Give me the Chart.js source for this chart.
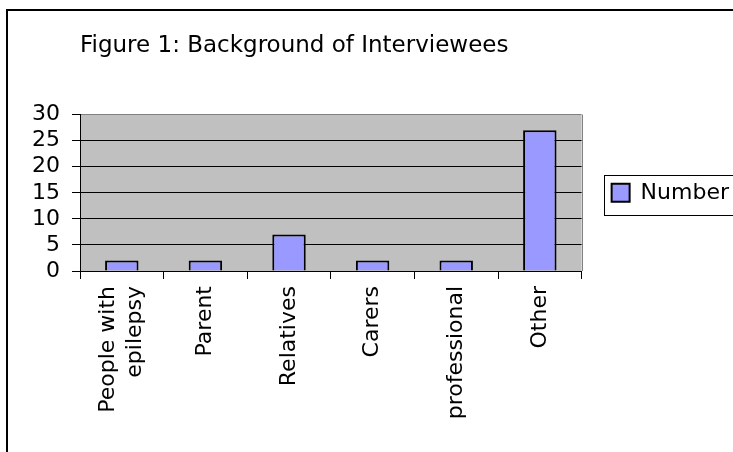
<!DOCTYPE html>
<html lang="en">
<head>
<meta charset="UTF-8" />
<title>Figure 1: Background of Interviewees</title>
<script src="https://cdn.jsdelivr.net/npm/chart.js"></script>
<style>
  body { margin: 0; background: #fff; }
  #wrap { position: relative; width: 733px; height: 452px; }
</style>
</head>
<body>
<div id="wrap"><canvas id="chart"></canvas></div>
<script>
  const categories = [["People with", "epilepsy"], "Parent", "Relatives", "Carers", "professional", "Other"];
  const numbers = [2, 2, 7, 2, 2, 27];
  const yTicks = [0, 5, 10, 15, 20, 25, 30];

  const FONT = "'DejaVu Sans', sans-serif";

  // grey plot area, outer frame, grey top/right plot edge, box round the legend
  const chartDecor = {
    id: 'chartDecor',
    beforeDraw(chart) {
      const { ctx, chartArea: a } = chart;
      ctx.save();
      ctx.fillStyle = '#c0c0c0';
      ctx.fillRect(a.left, a.top, a.right - a.left, a.bottom - a.top);
      ctx.strokeStyle = '#000';
      ctx.lineWidth = 2;
      ctx.strokeRect(7, 10, 800, 600);
      ctx.restore();

      // centre two-line category labels on their tick (Chart.js starts them at the tick)
      const items = chart.scales.x.getLabelItems();
      items.forEach(it => {
        if (Array.isArray(it.label) && it.options && it.options.translation) {
          it.options.translation[0] -= (it.label.length - 1) * it.font.lineHeight / 2;
        }
      });
    },
    afterDraw(chart) {
      const { ctx, chartArea: a } = chart;
      ctx.save();
      ctx.strokeStyle = '#808080';
      ctx.lineWidth = 1;
      ctx.beginPath();
      ctx.moveTo(Math.round(a.right) + 0.5, a.top);
      ctx.lineTo(Math.round(a.right) + 0.5, a.bottom);
      ctx.stroke();
      const hb = chart.legend.legendHitBoxes[0];
      const cy = Math.round(hb.top + hb.height / 2);
      ctx.strokeStyle = '#000';
      ctx.strokeRect(Math.round(hb.left) - 7.5, cy - 17.5, 200, 40);
      ctx.restore();
    }
  };

  new Chart(document.getElementById('chart'), {
    type: 'bar',
    data: {
      labels: categories,
      datasets: [{
        label: 'Number',
        data: numbers,
        backgroundColor: '#9999ff',
        borderColor: '#000',
        borderWidth: 2,
        categoryPercentage: 1,
        barPercentage: 0.4
      }]
    },
    options: {
      responsive: true,
      maintainAspectRatio: false,
      animation: false,
      layout: { padding: { top: 20, left: 0, right: -6, bottom: 0 } },
      plugins: {
        title: {
          display: true,
          text: 'Figure 1: Background of Interviewees',
          align: 'start',
          fullSize: false,
          color: '#000',
          font: { family: FONT, size: 23, weight: 'normal' },
          padding: { top: 12, bottom: 55 }
        },
        legend: {
          position: 'right',
          fullSize: false,
          labels: {
            color: '#000',
            font: { family: FONT, size: 22 },
            boxWidth: 18,
            boxHeight: 18,
            padding: 30
          }
        },
        tooltip: { enabled: false }
      },
      scales: {
        x: {
          grid: { offset: true, drawOnChartArea: false, tickLength: 8, color: '#000' },
          border: { color: '#000', width: 1 },
          ticks: {
            color: '#000',
            font: { family: FONT, size: 22 },
            minRotation: 90,
            maxRotation: 90,
            autoSkip: false,
            padding: 7
          },
          afterFit(scale) { scale.height = 452 - 271; }
        },
        y: {
          min: 0,
          max: 30,
          afterBuildTicks(scale) { scale.ticks = yTicks.map(v => ({ value: v })); },
          grid: {
            color: c => (c.tick && c.tick.value === 30 ? '#808080' : '#000'),
            tickColor: '#000',
            tickLength: 8
          },
          border: { color: '#000', width: 1 },
          ticks: {
            color: '#000',
            font: { family: FONT, size: 22 },
            padding: 12,
            autoSkip: false
          },
          afterFit(scale) { scale.width = 80; }
        }
      }
    },
    plugins: [chartDecor]
  });
</script>
</body>
</html>
